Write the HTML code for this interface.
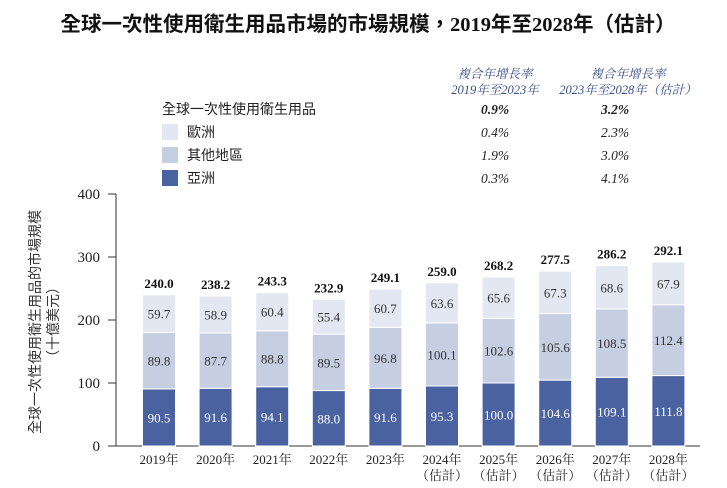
<!DOCTYPE html>
<html><head><meta charset="utf-8"><style>
body{margin:0;background:#fff;}
svg{display:block;}
text{font-family:"Liberation Serif","Noto Serif CJK SC","Noto Sans CJK TC",serif;}
.cjk{font-family:"Liberation Serif","Noto Sans CJK TC",sans-serif;}
</style></head><body>
<svg id="c" width="727" height="488">
<text x="368" y="31" text-anchor="middle" font-size="20.5" font-weight="bold" fill="#111" class="cjk">全球一次性使用衛生用品市場的市場規模，2019年至2028年（估計）</text>
<g font-style="italic" fill="#3a4f8a" font-size="12.5">
<text x="495" y="78" text-anchor="middle">複合年增長率</text>
<text x="495" y="94" text-anchor="middle">2019年至2023年</text>
<text x="628" y="78" text-anchor="middle">複合年增長率</text>
<text x="628" y="94" text-anchor="middle">2023年至2028年（估計）</text>
</g>
<g id="legend"></g>
<g id="plot"></g>
<text transform="translate(40,322) rotate(-90)" text-anchor="middle" font-size="14" fill="#333" class="cjk">全球一次性使用衛生用品的市場規模</text>
<text transform="translate(58,322) rotate(-90)" text-anchor="middle" font-size="14" fill="#333" class="cjk">（十億美元）</text>
</svg>
<script>
const categories=["2019年","2020年","2021年","2022年","2023年","2024年","2025年","2026年","2027年","2028年"];
const estimated=[false,false,false,false,false,true,true,true,true,true];
const asia=[90.5,91.6,94.1,88.0,91.6,95.3,100.0,104.6,109.1,111.8];
const other=[89.8,87.7,88.8,89.5,96.8,100.1,102.6,105.6,108.5,112.4];
const europe=[59.7,58.9,60.4,55.4,60.7,63.6,65.6,67.3,68.6,67.9];
const totals=["240.0","238.2","243.3","232.9","249.1","259.0","268.2","277.5","286.2","292.1"];
const yTicks=[0,100,200,300,400];
const legendNames=["全球一次性使用衛生用品","歐洲","其他地區","亞洲"];
const cagr1=["0.9%","0.4%","1.9%","0.3%"];
const cagr2=["3.2%","2.3%","3.0%","4.1%"];
const colors=["#e3e7f1","#c6cee2","#4a63a0"];
const NS="http://www.w3.org/2000/svg";
const plot=document.getElementById('plot'),leg=document.getElementById('legend');
function mk(tag,attrs,parent,txt){const e=document.createElementNS(NS,tag);for(const k in attrs)e.setAttribute(k,attrs[k]);if(txt!=null)e.textContent=txt;parent.appendChild(e);return e;}
const y0=446,y1=194,ymax=400;
const y=v=>y0-(v/ymax)*(y0-y1);
const x=i=>159+i*56.6;
const bw=33;
let a=mk('line',{x1:116,y1:y1,x2:116,y2:y0,stroke:'#333'},plot);


let b=mk('line',{x1:108,y1:y0,x2:700,y2:y0,stroke:'#333'},plot);


yTicks.forEach(t=>{mk('line',{x1:108,y1:y(t),x2:116,y2:y(t),stroke:'#333'},plot);
let tt=mk('text',{x:100,y:y(t)+5,'text-anchor':'end','font-size':15,fill:'#222'},plot,t);

});
categories.forEach((c,i)=>{
 const segs=[asia[i],other[i],europe[i]];const cols=[colors[2],colors[1],colors[0]];const nm=['asia','other','europe'];
 let base=0;
 segs.forEach((v,k)=>{
  const r=mk('rect',{x:x(i)-bw/2,y:y(base+v),width:bw,height:y(base)-y(base+v),fill:cols[k],stroke:'#fff','stroke-width':1},plot);
  
  
  const lb=mk('text',{x:x(i),y:y(base+v/2)+5,'text-anchor':'middle','font-size':13,fill:k==0?'#fff':'#333'},plot,v.toFixed(1));
  
  
  base+=v;});
 const tl=mk('text',{x:x(i),y:y(base)-7,'text-anchor':'middle','font-size':13,'font-weight':'bold',fill:'#111'},plot,totals[i]);
 
 
 const cl=mk('text',{x:x(i),y:464,'text-anchor':'middle','font-size':13,fill:'#222'},plot,c);
 
 
 if(estimated[i]){const e=mk('text',{x:x(i),y:480,'text-anchor':'middle','font-size':13,fill:'#222'},plot,'（估計）');
 
 }
});
legendNames.forEach((n,k)=>{
 const yy=114+k*23;
 if(k>0){const sw=mk('rect',{x:162,y:yy-13,width:16,height:16,fill:colors[k-1]},leg);
 
 }
 const t=mk('text',{x:k>0?187:162,y:yy,'font-size':14,fill:'#222',class:'cjk'},leg,n);
 
 
 const c1=mk('text',{x:495,y:yy,'text-anchor':'middle','font-size':13.5,'font-style':'italic','font-weight':k==0?'bold':'normal',fill:'#222'},leg,cagr1[k]);
 
 
 const c2=mk('text',{x:615,y:yy,'text-anchor':'middle','font-size':13.5,'font-style':'italic','font-weight':k==0?'bold':'normal',fill:'#222'},leg,cagr2[k]);
 
 
});
</script>
</body></html>
